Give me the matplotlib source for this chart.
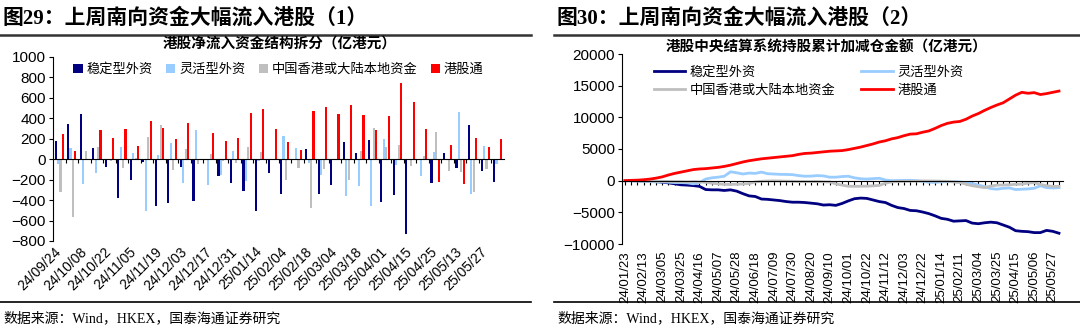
import numpy as np
import matplotlib.pyplot as plt
from matplotlib.lines import Line2D

plt.rcParams['font.family'] = ['Liberation Sans', 'Noto Sans CJK SC', 'DejaVu Sans']

# --- 图29 数据：港股净流入资金结构拆分（亿港元），每周 ---
bar_tick_labels = ['24/09/24', '24/10/08', '24/10/22', '24/11/05', '24/11/19', '24/12/03',
                   '24/12/17', '24/12/31', '25/01/14', '25/02/04', '25/02/18', '25/03/04',
                   '25/03/18', '25/04/01', '25/04/15', '25/04/25', '25/05/13', '25/05/27']
stable_flow = [180, 340, 447, 108, -75, -378, -200, -26, -456, -424, -72, -405,
               0, -167, -232, -314, -510, -131, -337, 0, 101, -337, -249, 173,
               56, 186, -423, -350, -732, 0, -232, 57, -83, 330, -118, -222]
flexible_flow = [-50, 110, -238, -130, -10, 120, 62, -505, 40, 160, -232, 284,
                 -248, -150, 85, -212, -15, -10, 229, 111, -33, -157, 0, -356,
                 -262, -461, 193, -52, -10, -167, 70, 0, 460, -343, 128, -45]
local_flow = [-325, -570, 80, 115, -15, -90, 10, 215, 336, -105, 100, -43,
              50, -20, -36, 124, 67, 0, -206, -85, -477, -92, 0, -206,
              78, 301, 121, 135, -69, 29, 266, -113, -122, -317, -93, 0]
southbound_flow = [250, 80, 0, 285, 212, 300, 134, 377, 310, 199, 355, 0,
                   255, 176, 209, 454, 495, 300, 170, 95, 468, 507, 441, 526,
                   432, 284, 422, 742, 564, 297, -224, 137, -245, 209, 124, 201]

# --- 图30 数据：港股中央结算系统持股累计加减仓金额（亿港元），每周 ---
line_tick_labels = ['24/01/23', '24/02/13', '24/03/05', '24/03/25', '24/04/16', '24/05/07',
                    '24/05/28', '24/06/18', '24/07/09', '24/07/30', '24/08/20', '24/09/10',
                    '24/10/01', '24/10/22', '24/11/12', '24/12/03', '24/12/22', '25/01/14',
                    '25/02/11', '25/03/04', '25/03/25', '25/04/15', '25/05/06', '25/05/27']
stable_cum = [0, 0, -20, -50, -100, -150, -250, -350, -500, -650, -700, -780,
              -900, -1400, -1450, -1450, -1550, -1450, -1650, -2050, -2400, -2500, -2900, -2950,
              -3050, -3150, -3300, -3400, -3400, -3450, -3550, -3650, -3850, -3800, -3900, -3600,
              -3200, -2850, -2750, -2800, -3050, -3300, -3450, -3900, -4250, -4400, -4700, -4750,
              -4950, -5200, -5550, -5950, -6100, -6400, -6350, -6300, -6700, -6800, -6650, -6550,
              -6650, -7000, -7350, -7900, -8000, -8050, -8200, -8200, -7850, -8000, -8300]
flexible_cum = [0, 0, -50, -100, -150, -200, -200, -250, -300, -300, -350, -500,
                -300, 250, 450, 550, 700, 1400, 1250, 1050, 1200, 1150, 1350, 1100,
                1050, 1000, 980, 950, 800, 700, 720, 800, 750, 550, 550, 650,
                700, 450, 300, 250, 320, 380, 100, 0, 20, 50, 60, 0,
                -100, -250, -260, -200, -150, -160, -200, -350, -450, -700, -950, -1250,
                -1350, -1200, -1150, -1400, -1350, -1300, -1200, -800, -1100, -1150, -1100]
local_cum = [0, 0, -30, -50, -80, -100, -100, -120, -150, -150, -200, -150,
             -200, -260, -400, -500, -570, -600, -570, -520, -450, -200, -100, -50,
             -30, -50, -80, -100, -150, -150, -150, -150, -180, -200, -500, -700,
             -880, -900, -880, -870, -820, -750, -400, -200, -150, -100, -100, -80,
             -50, -50, -60, -80, -100, -200, -300, -550, -800, -950, -1100, -850,
             -700, -680, -650, -580, -550, -400, -300, -600, -800, -900, -900]
southbound_cum = [0, 50, 80, 150, 250, 400, 600, 900, 1150, 1350, 1550, 1750,
                  1850, 1900, 2000, 2100, 2250, 2450, 2700, 2950, 3150, 3300, 3450, 3550,
                  3650, 3750, 3850, 3950, 4150, 4300, 4350, 4450, 4550, 4650, 4700, 4750,
                  4900, 5100, 5300, 5550, 5800, 6100, 6300, 6600, 6800, 7100, 7350, 7400,
                  7650, 7850, 8250, 8700, 9050, 9250, 9350, 9700, 10200, 10600, 11100, 11550,
                  11950, 12300, 12900, 13500, 13950, 13800, 13900, 13600, 13750, 13950, 14150]

names = ['稳定型外资', '灵活型外资', '中国香港或大陆本地资金', '港股通']
colors = ['#000080', '#99CCFF', '#BFBFBF', '#FF0000']

W, H = 1080, 333
fig = plt.figure(figsize=(W / 100, H / 100), dpi=100)
serif = ['Liberation Serif', 'Noto Sans CJK SC']

# 标题、分隔线、来源
for x0, x1, head in [(0, 531, '图29：上周南向资金大幅流入港股（1）'),
                     (554, 1080, '图30：上周南向资金大幅流入港股（2）')]:
    fig.text((x0 + 3) / W, 1 - 18 / H, head, fontsize=15, fontweight='bold',
             family=serif, va='center', ha='left')
    fig.add_artist(Line2D([x0 / W, x1 / W], [1 - 35 / H] * 2, color='#333333', lw=1.8))
    fig.add_artist(Line2D([x0 / W, x1 / W], [1 - 302 / H] * 2, color='black', lw=1.2))
    fig.text((x0 + 3) / W, 1 - 318 / H, '数据来源：Wind，HKEX，国泰海通证券研究',
             fontsize=10, family=serif, va='center', ha='left')

# --- 左图：柱状图 ---
ax1 = fig.add_axes([53 / W, 1 - 241 / H, 451 / W, 184 / H])
x = np.arange(len(stable_flow))
offsets = [-0.29, -0.1, 0.1, 0.29]
for off, vals, col, name in zip(offsets, [stable_flow, flexible_flow, local_flow, southbound_flow],
                                colors, names):
    ax1.bar(x + off, vals, 0.17, color=col, label=name)
ax1.set_xlim(-0.5, len(x) - 0.5)
ax1.set_ylim(-800, 1000)
ax1.set_yticks(range(-800, 1001, 200))
ax1.spines[['top', 'right']].set_visible(False)
ax1.spines['bottom'].set_position(('data', 0))
ax1.set_xticks(np.arange(0.5, len(x) - 0.5, 1))
ax1.tick_params(axis='x', labelbottom=False, length=3, direction='out')
ax1.tick_params(axis='y', labelsize=11, length=3, pad=2)
sec1 = ax1.secondary_xaxis(0)
sec1.set_xticks(x[::2], bar_tick_labels)
sec1.spines['bottom'].set_visible(False)
sec1.tick_params(length=0, labelsize=10, pad=6, labelrotation=45)
for t in sec1.get_xticklabels():
    t.set_ha('right')
    t.set_va('center')
    t.set_rotation_mode('anchor')
ax1.legend(loc='upper center', bbox_to_anchor=(0.5, 1.03), ncol=4, frameon=False,
           handlelength=0.7, handleheight=0.7, handletextpad=0.3, columnspacing=1.0,
           prop={'size': 9.5})
fig.text(280 / W, 1 - 44 / H, '港股净流入资金结构拆分（亿港元）', fontsize=10.5,
         fontweight='bold', ha='center', va='center')

# --- 右图：累计加减仓折线 ---
ax2 = fig.add_axes([622 / W, 1 - 244 / H, 441 / W, 190 / H])
t_idx = np.arange(len(southbound_cum))
lines = {}
for vals, col, name in zip([stable_cum, flexible_cum, local_cum, southbound_cum], colors, names):
    lines[name], = ax2.plot(t_idx, vals, color=col, lw=2, label=name)
ax2.set_xlim(-0.5, 70.65)
ax2.set_ylim(-10000, 20000)
ax2.set_yticks(range(-10000, 20001, 5000))
ax2.spines[['top', 'right']].set_visible(False)
ax2.spines['bottom'].set_position(('data', 0))
ax2.set_xticks(t_idx)
ax2.tick_params(axis='x', labelbottom=False, length=3, direction='out')
ax2.tick_params(axis='y', labelsize=11, length=3, pad=2)
sec2 = ax2.secondary_xaxis(0)
sec2.set_xticks(t_idx[::3], line_tick_labels)
sec2.spines['bottom'].set_visible(False)
sec2.tick_params(length=0, labelsize=9.5, pad=5, labelrotation=90)
order = [names[0], names[2], names[1], names[3]]
ax2.legend([lines[n] for n in order], order, loc='upper left', bbox_to_anchor=(0.045, 1.0),
           ncol=2, frameon=False, handlelength=2.4, handletextpad=0.3, columnspacing=2.0,
           labelspacing=0.45, prop={'size': 9.5})
fig.text(826 / W, 1 - 47 / H, '港股中央结算系统持股累计加减仓金额（亿港元）', fontsize=10.5,
         fontweight='bold', ha='center', va='center')

fig.savefig('out.png', dpi=100)
